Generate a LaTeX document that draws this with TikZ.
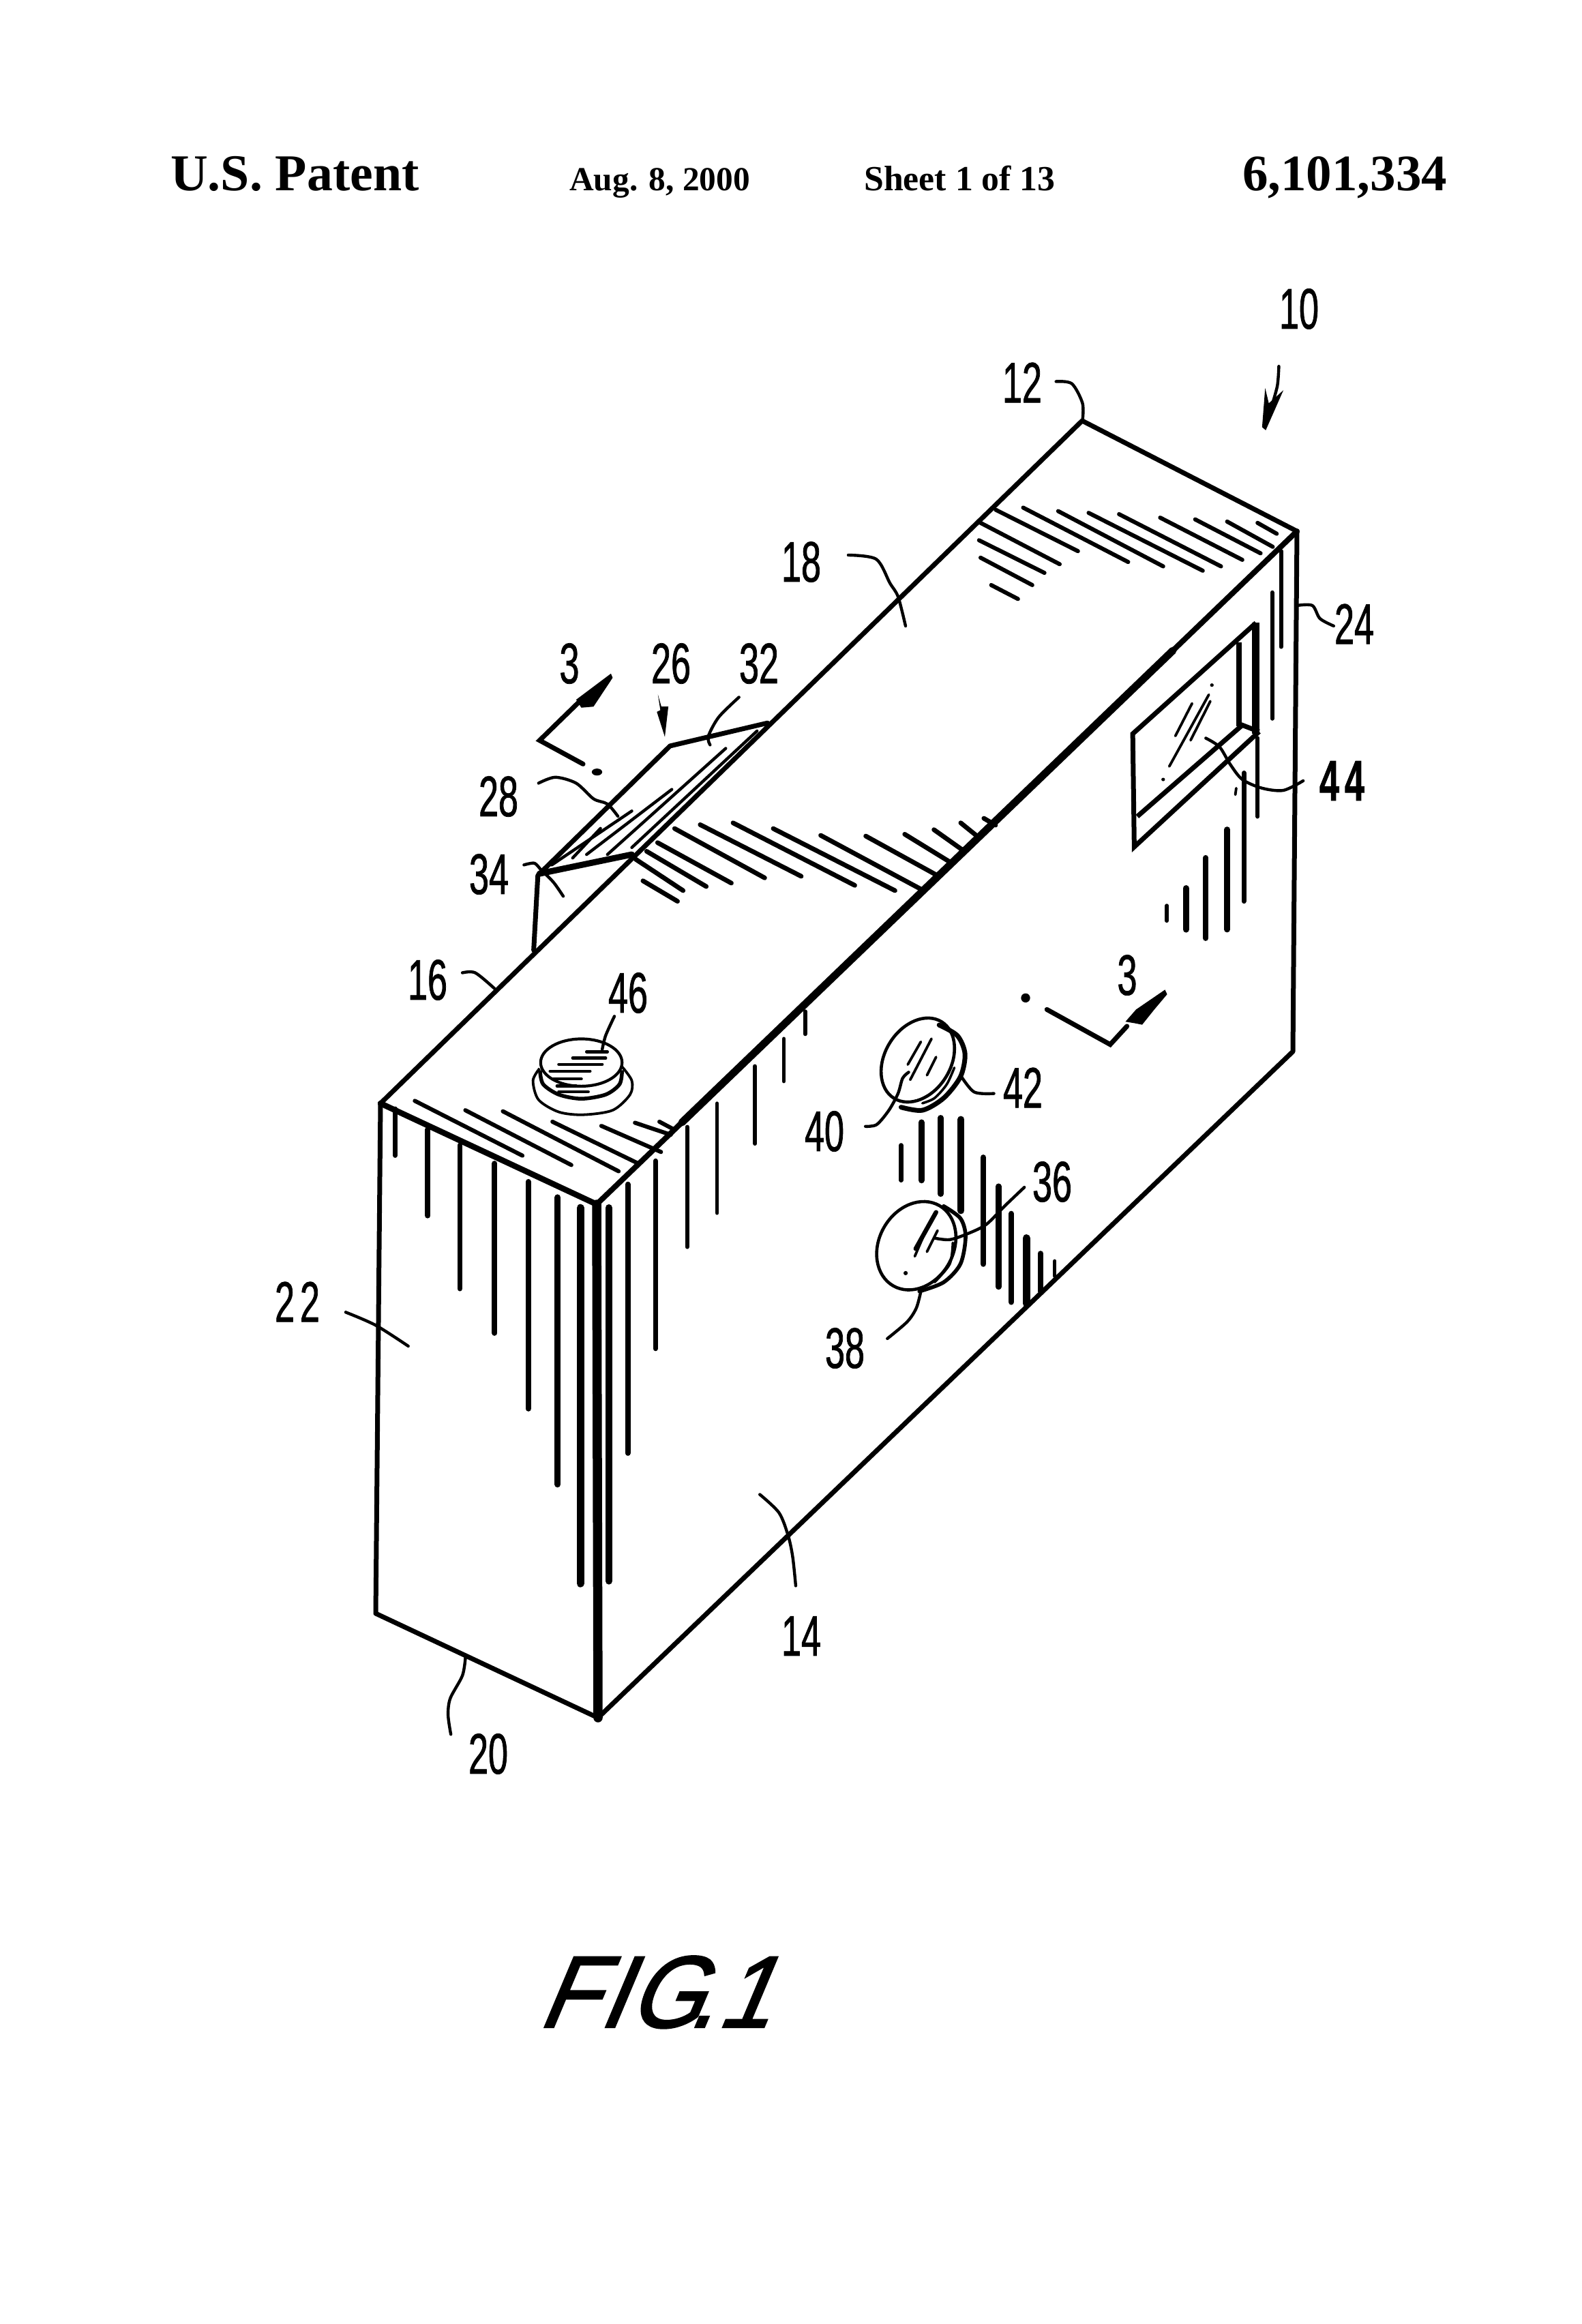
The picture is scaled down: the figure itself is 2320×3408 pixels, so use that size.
\documentclass[tikz,border=0pt]{standalone}
\usepackage{fontspec}
\setmainfont{Liberation Serif}
\newfontfamily\lblfont[FakeStretch=0.62,FakeBold=0.9]{Liberation Sans}
\newfontfamily\figfont[FakeSlant=0.42,FakeBold=1.6,FakeStretch=0.93]{Liberation Sans}
\tikzset{
  ca/.style={xshift=600pt,yshift=-850pt,x=.5102pt,y=-.5102pt},
  cb/.style={xshift=1400pt,yshift=-400pt,x=.4464pt,y=-.6378pt},
  cc/.style={xshift=1000pt,yshift=-1300pt,x=.4464pt,y=-.4464pt},
  cd/.style={xshift=350pt,yshift=-1400pt,x=.4783pt,y=-.7653pt},
  ce/.style={xshift=600pt,yshift=-2100pt,x=.4464pt,y=-.4464pt},
  cf/.style={xshift=900pt,yshift=-1150pt,x=.3571pt,y=-.3333pt},
  ch/.style={xshift=1300pt,yshift=-1400pt,x=.4464pt,y=-.4464pt},
  lead/.style={line width=4.4pt,line cap=round,line join=round},
  edge/.style={line width=7pt,line cap=round,line join=round},
  hatchline/.style={line width=6pt,line cap=round},
  fine/.style={line width=3.8pt,line cap=round},
  hdbig/.style={font=\fontsize{75.8}{76}\selectfont\bfseries,anchor=base west,inner sep=0pt},
  hdsmall/.style={font=\bfseries,anchor=base west,inner sep=0pt},
  lbl/.style={font=\lblfont\fontsize{84}{84}\selectfont,anchor=center,inner sep=0pt},
}
\begin{document}
\begin{tikzpicture}[x=1pt,y=-1pt]
\path[use as bounding box,fill=white] (0,0) rectangle (2320,3408);
% header
\node[hdbig] (hpat) at (250,279) {U.S. Patent};
\node[hdsmall] (hdate) at (835,279) {\fontsize{49.4}{50}\selectfont Aug. 8, 2000};
\node[hdsmall] (hsheet) at (1267,279) {\fontsize{51.8}{52}\selectfont Sheet 1 of 13};
\node[font=\fontsize{75}{75}\selectfont\bfseries,anchor=base west,inner sep=0pt] (hnum) at (1822,279) {6,101,334};
% figure title
\node[font=\figfont\fontsize{150}{150}\selectfont,anchor=base west,inner sep=0pt] (figt) at (787,2973) {F\kern3pt I\kern4pt G\kern-20pt.\kern4pt 1};
% box
\coordinate (A) at (1587,617);
\coordinate (B) at (1902,779);
\coordinate (C) at (558,1618);
\coordinate (D) at (875,1766);
\coordinate (E) at (877,2519);
\coordinate (F) at (551,2366);
\coordinate (G) at (1896,1542);
\draw[edge] (C)--(A)--(B);
\draw[edge,line width=8.5pt] (C)--(D);
\draw[edge] (C)--(F)--(E)--(G)--(B);
\draw[line width=13.5pt,line cap=round] (D)--(E);
\draw[line width=8pt,line cap=round] (D)--(1000,1646);
\draw[line width=11pt,line cap=round] (1000,1646)--(1720,954);
\draw[line width=8pt,line cap=round] (1720,954)--(B);
% notch and arrows (crop 1 frame)
\begin{scope}[ca]
\draw[line width=7pt,line cap=round,line join=round] (358,1065)--(370,850)--(750,478)--(1030,412);
\draw[line width=9pt,line cap=round] (375,845)--(640,790);
\foreach \a/\b/\c/\d in {640/665/410/820,550/715/470/800,755/603/510/790,910/485/570/790,1000/435/640/770}
  \draw[line width=4.4pt,line cap=round] (\a,\b)--(\c,\d);
\draw[line width=7pt,line cap=round,line join=miter] (500,530)--(375,462)--(490,350);
\fill (480,345)--(580,270)--(585,282)--(530,365)--(495,368)--cycle;
\fill (540,553) ellipse [x radius=15,y radius=10];
\fill (715,330)--(722,375)--(712,380)--(735,452)--(745,365)--(725,365)--cycle;
% leaders
\draw[lead] plot[smooth] coordinates {(948,338)(890,395)(860,450)(865,475)};
\draw[lead] plot[smooth] coordinates {(372,585)(420,568)(480,585)(530,630)(570,645)(600,680)};
\draw[lead] plot[smooth] coordinates {(330,820)(360,815)(380,835)(415,870)(443,910)};
\draw[lead] plot[smooth] coordinates {(153,1130)(190,1130)(245,1175)};
\draw[lead] plot[smooth] coordinates {(590,1255)(565,1310)(555,1350)};
% button 46
\draw[line width=4.2pt] (495,1388) ellipse [x radius=117,y radius=68];
\draw[line width=5.5pt] plot[smooth] coordinates {(376,1410)(385,1450)(430,1480)(495,1492)(565,1480)(605,1450)(612,1410)};
\draw[line width=3.8pt] plot[smooth] coordinates {(375,1405)(356,1440)(372,1495)(430,1530)(500,1538)(585,1525)(635,1480)(640,1440)(612,1400)};
\foreach \a/\b/\c in {510/570/1357,470/565/1375,430/555/1393,405/520/1413,415/495/1435,425/480/1455,430/515/1472}
  \draw[line width=4.4pt,line cap=round] (\a,\c)--(\b,\c);
\end{scope}
\draw[lead] plot[smooth] coordinates {(1244,814)(1285,820)(1305,855)(1317,875)(1328,918)};
% mid hatches (crop 10 frame)
\begin{scope}[cf]
\foreach \a/\b/\c/\d in {120/425/262/515,90/330/285/468,135/295/380/450,180/257/483/435,250/195/620/412,355/178/770/405,490/170/990/445,655/195/1155/468,850/225/1262/462,1035/228/1335/405,1195/220/1385/345,1315/200/1440/295,1425/170/1500/235,1520/150/1568/180}
  \draw[line width=6.8pt,line cap=round] (\a,\b)--(\c,\d);
\end{scope}
% back hatches and window (crop 2 frame)
\begin{scope}[cb]
\foreach \a/\b/\c/\d in {135/545/405/640,85/575/345/670,80/615/295/690,85/655/255/718,120/718/208/750,225/540/570/665,340/548/685/675,440/552/815/685,540/555/875/675,675/563/945/660,790/567/1005/645,895/572/1045/630,995/575/1058/600}
  \draw[hatchline] (\a,\b)--(\c,\d);
\foreach \x/\a/\b/\w in {1072/640/860/6,1043/735/1025/6,995/1070/1250/6.5,950/1150/1445/7,895/1280/1510/8.5,825/1345/1530/8,760/1415/1510/9,697/1455/1490/5.5}
  \draw[line width=\w pt,line cap=round] (\x,\a)--(\x,\b);
\draw[line width=11pt] (990,805)--(990,1060);
\draw[line width=7pt,line join=miter] (990,805)--(585,1060)--(590,1320)--(1000,1055);
\draw[line width=8pt] (935,850)--(935,1042);
\draw[line width=7pt] (600,1250)--(945,1040)--(1000,1055);
\foreach \a/\b/\c/\d in {725/1065/780/990,705/1135/835/970,775/1075/840/985}
  \draw[fine] (\a,\b)--(\c,\d);
\fill (845,948) circle [x radius=6,y radius=4];
\fill (685,1165) circle [x radius=6,y radius=4];
\draw[fine] (925,1185)--(922,1200);
\draw[lead] plot[smooth] coordinates {(825,1070)(870,1090)(905,1130)(945,1165)(1010,1185)(1080,1190)(1145,1168)};
\draw[lead] plot[smooth] coordinates {(1125,765)(1175,765)(1200,795)(1245,812)};
\draw[lead] plot[smooth] coordinates {(333,250)(385,255)(420,300)(420,340)};
\draw[lead] plot[smooth] coordinates {(1065,215)(1060,260)(1040,310)};
\fill (1020,265)--(1032,300)--(1080,270)--(1022,362)--(1010,355)--cycle;
\end{scope}
% front-face drips (crop 4 frame)
\begin{scope}[cd]
\foreach \x/\a/\b/\w in {480/295/385/6.5,580/335/500/8,678/365/640/7.5,785/400/725/8,888/435/870/8,978/465/1015/9,1048/485/1205/11,1135/485/1200/10.5,1193/440/955/8,1278/395/755/7,1375/330/560/6,1467/285/495/5.5}
  \draw[line width=\w pt,line cap=round] (\x,\a)--(\x,\b);
\foreach \a/\b/\c/\d in {540/280/870/385,695/298/1020/403,810/300/1165/415,962/320/1225/400,1112/328/1295/378,1215/322/1325/345,1290/320/1335/335}
  \draw[hatchline] (\a,\b)--(\c,\d);
\draw[lead] plot[smooth] coordinates {(328,685)(420,710)(520,750)};
\end{scope}
% lenses and face hatches (crop 3 frame)
\begin{scope}[cc]
\foreach \x/\a/\b/\w in {240/590/845/5.5,335/500/640/5.5,405/410/485/5.5,720/850/965/6.5,787/775/965/9,850/760/1010/8.5,917/765/1065/10,990/890/1240/8.5,1040/985/1315/8.5,1082/1075/1365/8.5,1132/1155/1370/11,1178/1205/1330/7.5,1225/1230/1280/5}
  \draw[line width=\w pt,line cap=round] (\x,\a)--(\x,\b);
% lens 40/42
\draw[line width=4.6pt,rotate around={58:(775,570)}] (775,570) ellipse [x radius=148,y radius=108];
\draw[line width=7pt,line cap=round] plot[smooth] coordinates {(845,455)(905,490)(930,550)(915,625)(860,695)(790,735)(720,725)};
\draw[line width=3.6pt,line cap=round] plot[smooth] coordinates {(895,595)(870,650)(830,695)(790,712)};
\foreach \a/\b/\c/\d in {742/585/785/510,750/635/820/500,805/620/835/560}
  \draw[fine] (\a,\b)--(\c,\d);
\draw[lead] plot[smooth] coordinates {(603,788)(640,782)(680,735)(710,680)(725,630)(745,610)};
\draw[lead] plot[smooth] coordinates {(915,620)(960,675)(1025,680)};
% lens 36/38
\draw[line width=4.6pt,rotate around={60:(770,1180)}] (770,1180) ellipse [x radius=152,y radius=122];
\draw[line width=5.6pt,line cap=round] plot[smooth] coordinates {(860,1050)(915,1090)(932,1150)(915,1240)(860,1300)(780,1330)};
\draw[line width=3.6pt,line cap=round] plot[smooth] coordinates {(890,1170)(880,1240)(830,1300)};
\draw[line width=6.5pt,line cap=round] (768,1190)--(835,1070);
\draw[fine] (765,1215)--(810,1110);
\draw[fine] (805,1200)--(840,1130);
\fill (735,1270) circle [radius=7];
\draw[lead] plot[smooth] coordinates {(1125,988)(1060,1050)(1000,1110)(940,1140)(880,1160)(830,1155)};
\draw[lead] plot[smooth] coordinates {(675,1485)(740,1430)(770,1385)(785,1330)};
\end{scope}
% section arrow lower (crop 8 frame)
\begin{scope}[ch]
\draw[line width=7pt,line cap=round,line join=miter] (527,180)--(735,295)--(790,235);
\fill (785,220)--(820,180)--(915,115)--(922,130)--(880,180)--(840,230)--(815,225)--cycle;
\fill (457,142) circle [radius=15];
\end{scope}
% lower leaders (crop 9 frame)
\begin{scope}[ce]
\draw[lead] plot[smooth] coordinates {(1152,205)(1215,265)(1245,340)(1260,410)(1270,505)};
\draw[lead] plot[smooth] coordinates {(185,740)(175,800)(135,875)(128,930)(137,993)};
\end{scope}
% labels
\node[lbl] (n10) at (1905,453) {10};
\node[lbl] (n12) at (1499,561) {12};
\node[lbl] (n24) at (1986,915) {24};
\node[lbl] (n44) at (1968,1145) {\textbf{4\kern8pt 4}};
\node[lbl] (n18) at (1175,824) {18};
\node[lbl] (n3a) at (835,973) {3};
\node[lbl] (n26) at (984,973) {26};
\node[lbl] (n32) at (1113,973) {32};
\node[lbl] (n28) at (731,1168) {28};
\node[lbl] (n34) at (717,1282) {34};
\node[lbl] (n16) at (627,1437) {16};
\node[lbl] (n46) at (921,1456) {46};
\node[lbl] (n40) at (1209,1659) {40};
\node[lbl] (n42) at (1500,1595) {42};
\node[lbl] (n3b) at (1653,1430) {3};
\node[lbl] (n36) at (1543,1733) {36};
\node[lbl] (n38) at (1239,1977) {38};
\node[lbl] (n22) at (436,1909) {2\kern8pt 2};
\node[lbl] (n20) at (716,2572) {20};
\node[lbl] (n14) at (1175,2399) {14};
\end{tikzpicture}
\end{document}
